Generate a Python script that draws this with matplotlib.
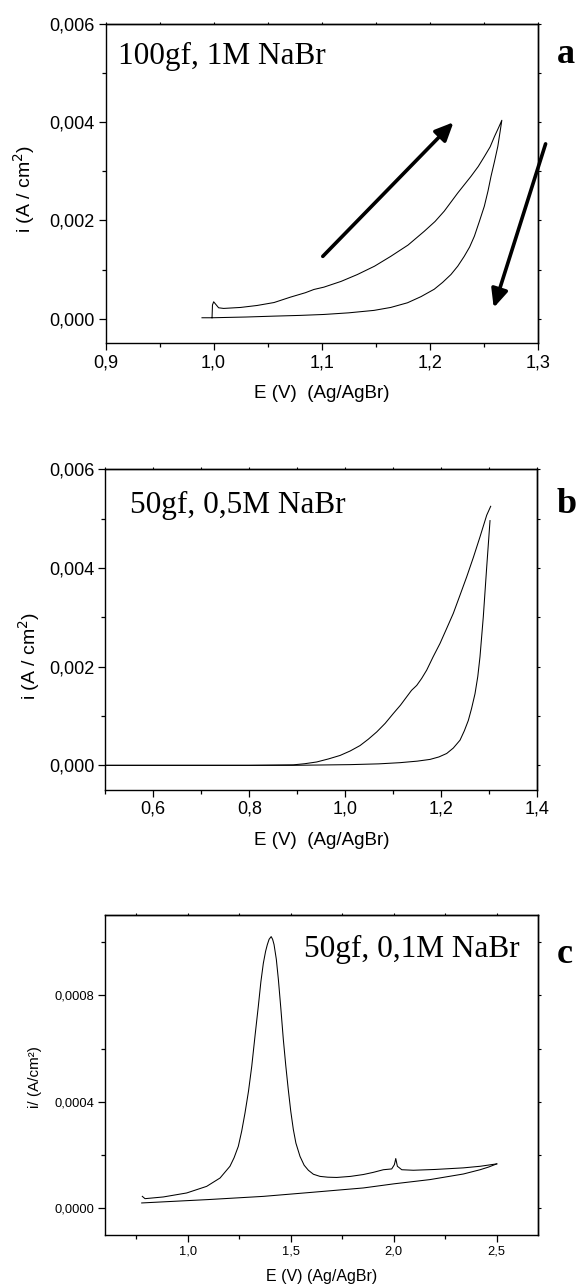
import matplotlib
matplotlib.use("Agg")
import matplotlib.pyplot as plt
from matplotlib.ticker import MultipleLocator, FuncFormatter

# ---------------- data ----------------
# Panel a: 100gf, 1M NaBr (single cyclic sweep)
a_E = [0.9986, 0.9990, 1.0001, 1.0047, 1.0093, 1.0250, 1.0403, 1.0560, 1.0712, 1.0850,
       1.0929, 1.1021, 1.1180, 1.1331, 1.1490, 1.1640, 1.1800, 1.1950, 1.2050, 1.2135, 1.2260,
       1.2383, 1.2450, 1.2506, 1.2560, 1.2600, 1.2640, 1.2668,
       1.2650, 1.2631, 1.2600, 1.2568, 1.2540, 1.2506, 1.2460, 1.2414, 1.2370, 1.2320,
       1.2260, 1.2197, 1.2120, 1.2042, 1.1920, 1.1795, 1.1640,
       1.1485, 1.1250, 1.1021, 1.0800, 1.0557, 1.0300, 0.9986, 0.9893]
a_i = [0.00002, 0.00028, 0.000345, 0.000223, 0.00021, 0.00023, 0.00027, 0.00033, 0.00044, 0.00053,
       0.000596, 0.000643, 0.00076, 0.00090, 0.00107, 0.00127, 0.00150, 0.00178, 0.00198, 0.00219, 0.00256,
       0.00290, 0.00310, 0.00330, 0.00350, 0.00371, 0.00390, 0.00404,
       0.00378, 0.00351, 0.00320, 0.00290, 0.00260, 0.00229, 0.00198, 0.00168, 0.00146, 0.00127,
       0.00107, 0.00090, 0.00074, 0.00060, 0.00045, 0.000325, 0.00023,
       0.00017, 0.00012, 0.000087, 0.000068, 0.000053, 0.000035, 0.00002, 0.00002]
arrow_up = [(1.1011, 0.00127), (1.2221, 0.00400)]
arrow_down = [(1.3073, 0.00356), (1.2593, 0.000224)]

# Panel b: 50gf, 0,5M NaBr
b_fwd_E = [0.50, 0.70, 0.89, 1.0098, 1.0700, 1.114, 1.150, 1.1765, 1.195, 1.2112, 1.225,
           1.2390, 1.248, 1.2563, 1.263, 1.2702, 1.2760, 1.2806, 1.2875, 1.2946, 1.3015]
b_fwd_i = [0.0, 0.0, 0.0, 0.000014, 0.000030, 0.000054, 0.000085, 0.00012, 0.00017, 0.00024, 0.00035,
           0.00051, 0.00070, 0.00091, 0.00115, 0.00145, 0.00180, 0.00220, 0.00301, 0.00402, 0.00496]
b_rev_E = [1.3029, 1.2946, 1.2806, 1.2670, 1.2529, 1.2390, 1.2250, 1.2110, 1.1973, 1.1830,
           1.1696, 1.1590, 1.1488, 1.1380, 1.1280, 1.1150, 1.1000, 1.0830, 1.0654, 1.0480,
           1.0306, 1.0100, 0.9890, 0.9650, 0.9404, 0.9150, 0.8917, 0.80, 0.50]
b_rev_i = [0.00525, 0.00507, 0.00463, 0.00422, 0.00382, 0.00345, 0.00308, 0.00277, 0.00247, 0.00220,
           0.00193, 0.00176, 0.00162, 0.00152, 0.00139, 0.00122, 0.00105, 0.00085, 0.000676, 0.00053,
           0.00040, 0.00029, 0.00020, 0.00013, 0.000068, 0.000032, 0.00001, 0.0, 0.0]

# Panel c: 50gf, 0,1M NaBr
c_fwd_E = [0.7796, 0.7927, 0.8816, 0.9950, 1.0920, 1.1570, 1.2050, 1.2250, 1.2456, 1.2620,
           1.2780, 1.2950, 1.3107, 1.3270, 1.3427, 1.3550, 1.3670, 1.3780, 1.3864, 1.3950,
           1.4050, 1.4120, 1.4190, 1.4300, 1.4400, 1.4520, 1.4640, 1.4760, 1.4880, 1.5000,
           1.5126, 1.5250, 1.5450, 1.5650, 1.5855, 1.6100, 1.6420, 1.6800, 1.7230, 1.7900,
           1.8524, 1.9000, 1.9495, 1.9900, 2.0030, 2.0097, 2.0175, 2.0388, 2.0950, 2.2000,
           2.3380, 2.4200, 2.5000]
c_fwd_i = [0.000045, 0.0000364, 0.0000428, 0.0000578, 0.0000826, 0.000114, 0.000158, 0.000190, 0.000233, 0.000290,
           0.000358, 0.000440, 0.000533, 0.000650, 0.000759, 0.000850, 0.000920, 0.000965, 0.000990, 0.001010,
           0.001020, 0.001010, 0.000990, 0.000935, 0.000859, 0.000750, 0.000634, 0.000535, 0.000446, 0.000365,
           0.000296, 0.000245, 0.000195, 0.000162, 0.000143, 0.000128, 0.000120, 0.000117, 0.000116, 0.000120,
           0.000127, 0.000135, 0.000145, 0.000148, 0.000164, 0.000187, 0.000158, 0.000145, 0.000143, 0.000146,
           0.000152, 0.000158, 0.000167]
c_rev_E = [2.5000, 2.4600, 2.4190, 2.3380, 2.1760, 2.0000, 1.8524, 1.6000, 1.3670, 1.1000, 0.7767]
c_rev_i = [0.000167, 0.000155, 0.000145, 0.000129, 0.000108, 0.000092, 0.0000766, 0.000060, 0.000045, 0.000033, 0.0000203]

labels = ["100gf, 1M NaBr", "50gf, 0,5M NaBr", "50gf, 0,1M NaBr"]
letters = ["a", "b", "c"]

# ---------------- figure ----------------
W, H = 582, 1286
fig = plt.figure(figsize=(W / 100, H / 100), dpi=100)
SANS = "Liberation Sans"
SERIF = "Liberation Serif"


def px_axes(l, r, t, b):
    return fig.add_axes([l / W, 1 - b / H, (r - l) / W, (b - t) / H])


def comma(fmt):
    return FuncFormatter(lambda v, p: (fmt % v).replace(".", ","))


def style(ax, xlim, ylim, xmaj, xmin, ymaj, ymin, xfmt, yfmt, fs):
    ax.set_xlim(*xlim)
    ax.set_ylim(*ylim)
    ax.xaxis.set_major_locator(MultipleLocator(xmaj))
    ax.xaxis.set_minor_locator(MultipleLocator(xmin))
    ax.yaxis.set_major_locator(MultipleLocator(ymaj))
    ax.yaxis.set_minor_locator(MultipleLocator(ymin))
    ax.xaxis.set_major_formatter(comma(xfmt))
    ax.yaxis.set_major_formatter(comma(yfmt))
    for s in ax.spines.values():
        s.set_linewidth(1.0)
    ax.tick_params(which="major", direction="out", length=4.8, width=0.9, labelsize=fs, pad=3)
    ax.tick_params(which="minor", direction="out", length=2.6, width=0.9)
    for lab in ax.get_xticklabels() + ax.get_yticklabels():
        lab.set_family(SANS)
    # short marks on the top / right frame
    sec = ax.secondary_xaxis("top")
    sec.xaxis.set_major_locator(MultipleLocator(xmaj))
    sec.xaxis.set_minor_locator(MultipleLocator(xmin))
    sec.tick_params(which="both", length=1.8, width=0.8, labeltop=False)
    sec.spines["top"].set_linewidth(1.0)
    sec = ax.secondary_yaxis("right")
    sec.yaxis.set_major_locator(MultipleLocator(ymaj))
    sec.yaxis.set_minor_locator(MultipleLocator(ymin))
    sec.tick_params(which="both", length=1.8, width=0.8, labelright=False)
    sec.spines["right"].set_linewidth(1.0)


# ---- panel a ----
axa = px_axes(105.5, 537.7, 24, 343.3)
axa.plot(a_E, a_i, color="black", lw=0.75)
style(axa, (0.9, 1.3), (-0.0005, 0.006), 0.1, 0.05, 0.002, 0.001, "%.1f", "%.3f", 13)
axa.set_xlabel("E (V)  (Ag/AgBr)", family=SANS, fontsize=13.5)
axa.set_ylabel("i (A / cm$^2$)", family=SANS, fontsize=14)
axa.xaxis.set_label_coords(0.5, -0.13)
axa.yaxis.set_label_coords(-0.158, 0.483)
for arr in (arrow_up, arrow_down):
    axa.annotate("", xy=arr[1], xytext=arr[0],
                 arrowprops=dict(arrowstyle="-|>,head_length=0.55,head_width=0.25",
                                 lw=2.6, color="black", shrinkA=0, shrinkB=0,
                                 mutation_scale=20),
                 annotation_clip=False)

# ---- panel b ----
axb = px_axes(105.3, 537.3, 469.3, 790)
axb.plot(b_fwd_E, b_fwd_i, color="black", lw=0.75)
axb.plot(b_rev_E, b_rev_i, color="black", lw=0.75)
style(axb, (0.5, 1.4), (-0.0005, 0.006), 0.2, 0.1, 0.002, 0.001, "%.1f", "%.3f", 13)
axb.set_xlabel("E (V)  (Ag/AgBr)", family=SANS, fontsize=13.5)
axb.set_ylabel("i (A / cm$^2$)", family=SANS, fontsize=14)
axb.xaxis.set_label_coords(0.5, -0.13)
axb.yaxis.set_label_coords(-0.1465, 0.418)

# ---- panel c ----
axc = px_axes(105.3, 538, 915.3, 1235)
axc.plot(c_fwd_E, c_fwd_i, color="black", lw=0.75)
axc.plot(c_rev_E, c_rev_i, color="black", lw=0.75)
style(axc, (0.6, 2.7), (-0.0001, 0.0011), 0.5, 0.25, 0.0004, 0.0002, "%.1f", "%.4f", 9.3)
axc.set_xlabel("E (V) (Ag/AgBr)", family=SANS, fontsize=11.5)
axc.set_ylabel("i/ (A/cm²)", family=SANS, fontsize=11)
axc.xaxis.set_label_coords(0.5, -0.105)
axc.yaxis.set_label_coords(-0.146, 0.495)

# ---- annotations ----
fig.text(117.8 / W, 1 - 64.3 / H, labels[0], family=SERIF, fontsize=22.5, ha="left", va="baseline")
fig.text(129.6 / W, 1 - 513.3 / H, labels[1], family=SERIF, fontsize=22.5, ha="left", va="baseline")
fig.text(520 / W, 1 - 956.7 / H, labels[2], family=SERIF, fontsize=22.5, ha="right", va="baseline")
for letter, yb in zip(letters, (63.3, 513.3, 963)):
    fig.text(557 / W, 1 - yb / H, letter, family=SERIF, fontsize=26, fontweight="bold",
             ha="left", va="baseline")

fig.savefig("out.png", dpi=100, facecolor="white")
